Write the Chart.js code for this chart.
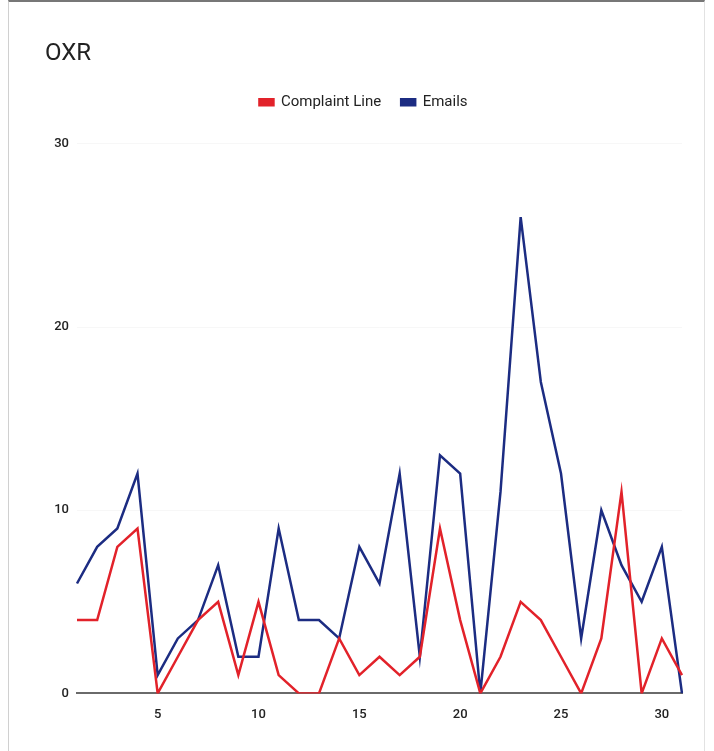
<!DOCTYPE html>
<html>
<head>
<meta charset="utf-8">
<script src="https://cdn.jsdelivr.net/npm/chart.js@4.4.0/dist/chart.umd.min.js"></script>
<style>
    html, body { margin: 0; padding: 0; background: #fff; }
    #frame {
        position: absolute; left: 8px; top: 0; width: 697px; height: 751px;
        border-top: 2px solid #777; border-left: 1px solid #d0d0d0; border-right: 1px solid #e2e2e2;
        box-sizing: border-box;
    }
    #wrap { position: absolute; left: 0; top: 0; width: 714px; height: 751px; }
</style>
</head>
<body>
<div id="frame"></div>
<div id="wrap"><canvas id="oxrChart"></canvas></div>
<script>
// días del mes
const days = Array.from({length: 31}, (_, i) => String(i + 1));

const complaintLine = [4, 4, 8, 9, 0, 2, 4, 5, 1, 5, 1, 0, 0, 3, 1, 2, 1, 2, 9, 4, 0, 2, 5, 4, 2, 0, 3, 11, 0, 3, 1];
const emails        = [6, 8, 9, 12, 1, 3, 4, 7, 2, 2, 9, 4, 4, 3, 8, 6, 12, 2, 13, 12, 0, 11, 26, 17, 12, 3, 10, 7, 5, 8, 0];

const yTicks = [0, 10, 20, 30];

// espacio extra bajo la leyenda
const legendMargin = {
    id: 'legendMargin',
    beforeInit(chart) {
        const fit = chart.legend.fit;
        chart.legend.fit = function () {
            fit.bind(chart.legend)();
            this.height += 24;
        };
    }
};

const ctx = document.getElementById('oxrChart').getContext('2d');

new Chart(ctx, {
    type: 'line',
    data: {
        labels: days,
        datasets: [
            {
                label: 'Complaint Line',
                data: complaintLine,
                borderColor: '#e2222a',
                backgroundColor: '#e2222a',
                borderWidth: 2.5,
                pointRadius: 0,
                tension: 0
            },
            {
                label: 'Emails',
                data: emails,
                borderColor: '#1c2c82',
                backgroundColor: '#1c2c82',
                borderWidth: 2.5,
                pointRadius: 0,
                tension: 0
            }
        ]
    },
    options: {
        responsive: true,
        maintainAspectRatio: false,
        animation: false,
        layout: { padding: { left: 45, right: 32, top: 40, bottom: 22 } },
        plugins: {
            title: {
                display: true,
                text: 'OXR',
                align: 'start',
                color: '#222',
                font: { family: 'Roboto', size: 24, weight: 'normal' },
                padding: { top: 0, bottom: 6 }
            },
            legend: {
                labels: {
                    boxWidth: 14,
                    boxHeight: 6,
                    color: '#222',
                    font: { family: 'Roboto', size: 15 },
                    padding: 20
                }
            },
            tooltip: { enabled: false }
        },
        scales: {
            x: {
                offset: false,
                grid: { display: false },
                border: { color: '#6a6a6a', width: 2 },
                ticks: {
                    autoSkip: false,
                    maxRotation: 0,
                    color: '#222',
                    font: { family: 'Roboto', size: 13, weight: '500' },
                    padding: 6,
                    callback: function (val, i) {
                        const d = Number(days[i]);
                        return d % 5 === 0 ? days[i] : '';
                    }
                }
            },
            y: {
                min: yTicks[0],
                max: yTicks[yTicks.length - 1],
                afterFit: scale => { scale.width = 32; },
                afterBuildTicks: scale => { scale.ticks = yTicks.map(v => ({ value: v })); },
                grid: { color: 'rgba(0,0,0,0.03)', drawTicks: false },
                border: { display: false },
                ticks: {
                    color: '#222',
                    font: { family: 'Roboto', size: 13, weight: '500' },
                    padding: 8
                }
            }
        }
    },
    plugins: [legendMargin]
});
</script>
</body>
</html>
